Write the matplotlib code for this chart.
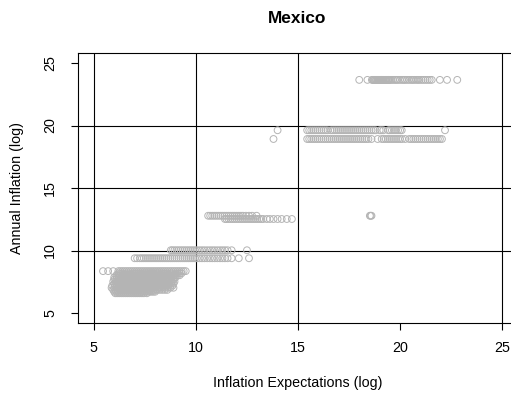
import matplotlib
matplotlib.use("Agg")
import matplotlib.pyplot as plt

plt.rcParams['font.family'] = ['Liberation Sans', 'DejaVu Sans']

title = "Mexico"
x_label = "Inflation Expectations (log)"
y_label = "Annual Inflation (log)"
x_ticks = [5, 10, 15, 20, 25]
y_ticks = [5, 10, 15, 20, 25]
v_lines = [5, 10, 15, 25]
h_lines = [10, 15, 20]

# ---- data: each group shares one annual-inflation value ----
y_a = 23.65
x_a = [18.0, 18.4, 18.62, 18.67, 18.7, 18.75, 18.78, 18.82, 18.85, 18.9, 18.92, 18.96,
       19.0, 19.03, 19.06, 19.1, 19.12, 19.16, 19.2, 19.24, 19.28, 19.32, 19.35, 19.4,
       19.42, 19.46, 19.5, 19.58, 19.66, 19.75, 19.82, 19.9, 20.0, 20.1, 20.18, 20.25,
       20.35, 20.45, 20.55, 20.62, 20.7, 20.8, 20.88, 20.95, 21.05, 21.15, 21.25, 21.35,
       21.45, 21.55, 21.95, 22.3, 22.8]

y_b = 19.62
x_b = [14.0, 15.45, 15.55, 15.65, 15.75, 15.85, 15.95, 16.05, 16.15, 16.25, 16.35, 16.45,
       16.6, 16.7, 16.8, 16.9, 17.0, 17.1, 17.2, 17.3, 17.4, 17.5, 17.6, 17.7, 17.8, 17.9,
       18.0, 18.1, 18.2, 18.3, 18.4, 18.5, 18.6, 18.7, 18.8, 19.0, 19.08, 19.18, 19.42,
       19.5, 19.6, 19.7, 19.8, 19.9, 20.0, 20.08, 22.2]

y_c = 18.92
x_c = [13.8, 15.45, 15.55, 15.65, 15.75, 15.85, 15.95, 16.05, 16.15, 16.25, 16.35, 16.45,
       16.55, 16.65, 16.75, 16.85, 16.95, 17.05, 17.15, 17.25, 17.35, 17.45, 17.55, 17.65,
       17.75, 17.85, 17.95, 18.05, 18.15, 18.25, 18.35, 18.45, 18.6, 18.9, 19.1, 19.2,
       19.3, 19.4, 19.5, 19.6, 19.7, 19.8, 19.9, 20.0, 20.1, 20.25, 20.45, 20.55, 20.65,
       20.75, 20.85, 20.95, 21.05, 21.15, 21.25, 21.35, 21.45, 21.55, 21.65, 21.75, 21.85,
       21.95, 22.05]

y_d1 = 12.78
x_d1 = [10.6, 10.7, 10.8, 10.9, 11.0, 11.1, 11.2, 11.3, 11.4, 11.5, 11.6, 11.7, 11.8,
        11.9, 12.0, 12.1, 12.2, 12.3, 12.45, 12.6, 12.75, 12.97, 18.52, 18.56, 18.6]

y_d2 = 12.52
x_d2 = [11.42, 11.5, 11.6, 11.7, 11.8, 11.9, 12.0, 12.1, 12.2, 12.3, 12.4, 12.5, 12.6,
        12.7, 12.8, 12.9, 13.0, 13.1, 13.2, 13.3, 13.47, 13.62, 13.8, 14.0, 14.2, 14.45,
        14.7]

y_e = 10.02
x_e = [8.77, 8.85, 8.95, 9.05, 9.15, 9.25, 9.35, 9.45, 9.55, 9.65, 9.75, 9.85, 9.95,
       10.05, 10.18, 10.3, 10.42, 10.55, 10.68, 10.8, 10.92, 11.05, 11.18, 11.3, 11.42,
       11.55, 11.75, 12.5]

y_f = 9.38
x_f = [7.0, 7.12, 7.25, 7.35, 7.45, 7.55, 7.65, 7.75, 7.85, 7.95, 8.05, 8.15, 8.25, 8.35,
       8.45, 8.55, 8.65, 8.75, 8.85, 8.95, 9.05, 9.15, 9.25, 9.35, 9.45, 9.55, 9.65, 9.75,
       9.85, 9.95, 10.05, 10.18, 10.3, 10.42, 10.55, 10.68, 10.8, 10.92, 11.05, 11.18,
       11.3, 11.42, 11.55, 11.75, 12.1, 12.6]

y_g1 = 8.35
x_g1 = [5.45, 5.7, 5.95, 6.2, 6.3, 6.4, 6.5, 6.6, 6.7, 6.8, 6.9, 7.0, 7.1, 7.2, 7.3, 7.4,
        7.5, 7.6, 7.7, 7.8, 7.9, 8.0, 8.1, 8.2, 8.3, 8.4, 8.5, 8.6, 8.7, 8.8, 8.9, 9.0,
        9.1, 9.2, 9.3, 9.4, 9.5]
y_g2 = 8.18
x_g2 = [6.2, 6.32, 6.42, 6.55, 6.65, 6.75, 6.88, 6.98, 7.08, 7.2, 7.3, 7.42, 7.52, 7.62,
        7.75, 7.85, 7.95, 8.08, 8.18, 8.3, 8.4, 8.52, 8.62, 8.75, 8.85, 8.98, 9.1, 9.2, 9.3]
y_g3 = 8.02
x_g3 = [6.1, 6.2, 6.3, 6.4, 6.5, 6.6, 6.7, 6.8, 6.9, 7.0, 7.1, 7.2, 7.3, 7.4, 7.5, 7.6,
        7.7, 7.8, 7.9, 8.0, 8.1, 8.2, 8.3, 8.4, 8.5, 8.6, 8.7, 8.8, 8.9, 9.0, 9.1, 9.2]
y_g4 = 7.85
x_g4 = [6.0, 6.12, 6.22, 6.35, 6.45, 6.55, 6.68, 6.78, 6.88, 7.0, 7.1, 7.22, 7.32, 7.42,
        7.55, 7.65, 7.75, 7.88, 7.98, 8.1, 8.2, 8.32, 8.42, 8.55, 8.65, 8.78, 8.9, 9.0]
y_g5 = 7.68
x_g5 = [6.0, 6.1, 6.2, 6.3, 6.4, 6.5, 6.6, 6.7, 6.8, 6.9, 7.0, 7.1, 7.2, 7.3, 7.4, 7.5,
        7.6, 7.7, 7.8, 7.9, 8.0, 8.1, 8.2, 8.3, 8.4, 8.5, 8.6, 8.7, 8.8, 8.9]
y_g6 = 7.52
x_g6 = [5.95, 6.08, 6.18, 6.3, 6.4, 6.52, 6.62, 6.72, 6.85, 6.95, 7.05, 7.18, 7.28, 7.4,
        7.5, 7.6, 7.72, 7.82, 7.95, 8.05, 8.15, 8.28, 8.38, 8.5, 8.6, 8.72, 8.82, 8.95]
y_g7 = 7.35
x_g7 = [6.0, 6.1, 6.2, 6.3, 6.4, 6.5, 6.6, 6.7, 6.8, 6.9, 7.0, 7.1, 7.2, 7.3, 7.4, 7.5,
        7.6, 7.7, 7.8, 7.9, 8.0, 8.1, 8.2, 8.3, 8.4, 8.5, 8.6, 8.7, 8.8, 8.9]
y_g8 = 7.18
x_g8 = [5.9, 6.02, 6.12, 6.25, 6.35, 6.45, 6.58, 6.68, 6.78, 6.9, 7.0, 7.12, 7.22, 7.32,
        7.45, 7.55, 7.65, 7.78, 7.88, 8.0, 8.1, 8.2, 8.32, 8.42, 8.55, 8.65, 8.75, 8.85]
y_g9 = 7.02
x_g9 = [5.87, 6.0, 6.1, 6.2, 6.3, 6.4, 6.5, 6.6, 6.7, 6.8, 6.9, 7.0, 7.1, 7.2, 7.3, 7.4,
        7.5, 7.6, 7.7, 7.8, 7.9, 8.0, 8.1, 8.2, 8.3, 8.4, 8.5, 8.62, 8.75, 8.9]
y_g10 = 6.85
x_g10 = [5.95, 6.05, 6.15, 6.28, 6.38, 6.48, 6.6, 6.7, 6.8, 6.92, 7.02, 7.12, 7.25, 7.35,
         7.45, 7.58, 7.68, 7.78, 7.9, 8.0, 8.1, 8.22, 8.35, 8.48, 8.6]
y_g11 = 6.7
x_g11 = [6.0, 6.1, 6.2, 6.3, 6.4, 6.5, 6.6, 6.7, 6.8, 6.9, 7.0, 7.1, 7.2, 7.3, 7.4, 7.5,
         7.6, 7.7, 7.8, 7.9, 8.0]
y_g12 = 6.58
x_g12 = [6.05, 6.15, 6.25, 6.35, 6.45, 6.55, 6.65, 6.75, 6.85, 6.95, 7.05, 7.15, 7.25,
         7.35, 7.45, 7.6]

groups = [(y_a, x_a), (y_b, x_b), (y_c, x_c), (y_d1, x_d1), (y_d2, x_d2),
          (y_e, x_e), (y_f, x_f), (y_g1, x_g1), (y_g2, x_g2), (y_g3, x_g3),
          (y_g4, x_g4), (y_g5, x_g5), (y_g6, x_g6), (y_g7, x_g7), (y_g8, x_g8),
          (y_g9, x_g9), (y_g10, x_g10), (y_g11, x_g11), (y_g12, x_g12)]

# ---- figure ----
W, H = 511, 396
fig = plt.figure(figsize=(W / 100, H / 100), dpi=100)
ax = fig.add_axes([77.5 / W, 1 - 323 / H, 441 / W, 270 / H])
ax.set_xlim(4.2, 25.8)
ax.set_ylim(4.2, 25.8)

for v in v_lines:
    ax.axvline(v, color='black', lw=0.8, zorder=1)
for h in h_lines:
    ax.axhline(h, color='black', lw=0.8, zorder=1)

for yv, xs in groups:
    ax.scatter(xs, [yv] * len(xs), s=24, facecolors='none', edgecolors='#b4b4b4',
               linewidths=0.7, zorder=2)

for sp in ax.spines.values():
    sp.set_color('black')
    sp.set_linewidth(0.8)
ax.spines['right'].set_visible(False)

ax.set_xticks(x_ticks)
ax.set_yticks(y_ticks)
ax.set_xticklabels([str(t) for t in x_ticks])
ax.set_yticklabels([str(t) for t in y_ticks], rotation=90, va='center')
ax.tick_params(direction='out', length=5.2, width=0.8, labelsize=10.3, colors='black')
ax.tick_params(axis='x', pad=8)
ax.tick_params(axis='y', pad=9.5)

fig.text(297.5 / W, 1 - 383 / H, x_label, ha='center', va='center', fontsize=10.3)
fig.text(17.5 / W, 1 - 188 / H, y_label, ha='center', va='center', rotation=90,
         fontsize=10.3)
fig.text(297.5 / W, 1 - 18.5 / H, title, ha='center', va='center', fontsize=12.4,
         fontweight='bold')

fig.savefig('out.png', dpi=100)
